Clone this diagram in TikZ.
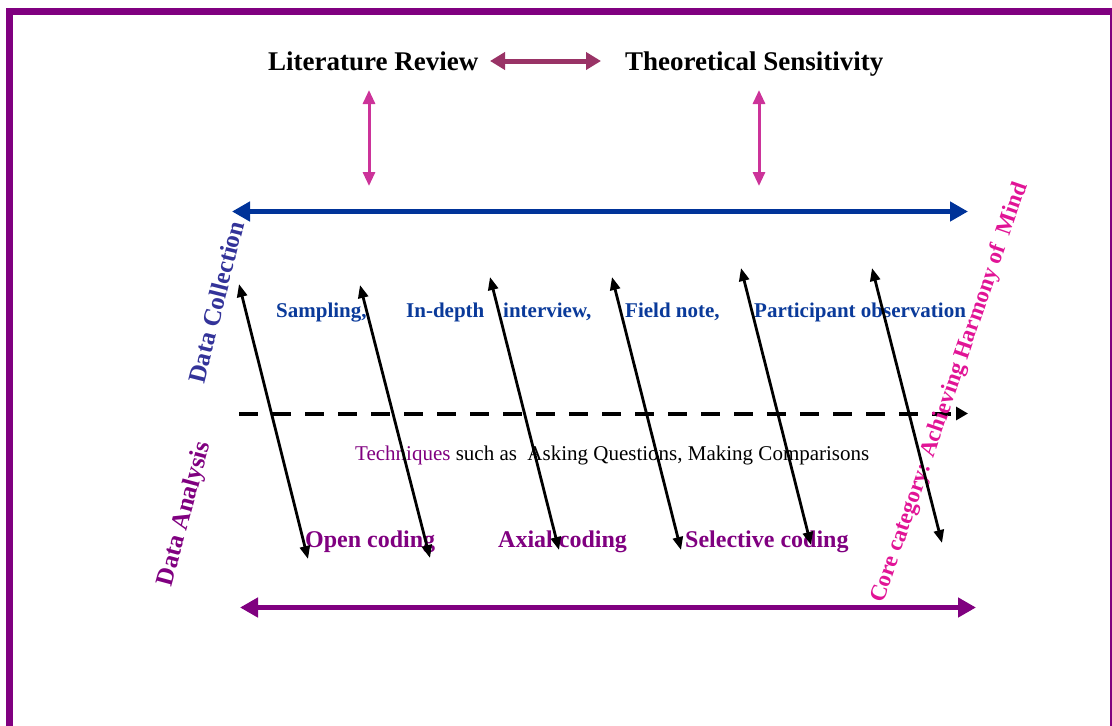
\documentclass[tikz,border=0pt]{standalone}
\usepackage{fontspec}
\setmainfont{Liberation Serif}
\usetikzlibrary{arrows.meta}
\definecolor{framepurple}{HTML}{800080}
\definecolor{maroonarrow}{HTML}{993366}
\definecolor{pinkarrow}{HTML}{CC3399}
\definecolor{bluearrow}{HTML}{003399}
\definecolor{bluetext}{HTML}{0A3A9A}
\definecolor{dcblue}{HTML}{333399}
\definecolor{coremag}{RGB}{225,20,150}
\begin{document}
\begin{tikzpicture}[x=1pt,y=-1pt,
  lbl/.style={inner sep=0pt, anchor=base west},
  toptext/.style={lbl, font=\fontsize{27}{30}\selectfont\bfseries},
  bluelbl/.style={lbl, text=bluetext, font=\fontsize{21}{24}\selectfont\bfseries},
  codelbl/.style={lbl, text=framepurple, font=\fontsize{24}{27}\selectfont\bfseries},
  rotlbl/.style={inner sep=0pt, anchor=center, font=\fontsize{25}{28}\selectfont\bfseries},
  blk/.style={black, line width=2.8pt, {Triangle[length=13pt,width=10pt]}-{Triangle[length=13pt,width=10pt]}},
  pinkarr/.style={pinkarrow, line width=3pt, {Triangle[length=14pt,width=12pt]}-{Triangle[length=14pt,width=12pt]}},
  bigarr/.style={line width=5.5pt, {Triangle[length=18pt,width=19pt]}-{Triangle[length=18pt,width=19pt]}}
]
\useasboundingbox (0,0) rectangle (1112,726);
\clip (0,0) rectangle (1112,726);
\draw[framepurple, line width=6.5pt] (9.3,11.3) rectangle (1113.5,800);

% top texts
\node[toptext] (lit) at (268,70) {Literature Review};
\node[toptext] (theo) at (625,70) {Theoretical Sensitivity};
\coordinate (litR) at (490,61);
\coordinate (theoL) at (601,61);
\draw[maroonarrow, line width=5pt, {Triangle[length=15pt,width=17pt]}-{Triangle[length=15pt,width=17pt]}] (litR) -- (theoL);

% pink vertical arrows
\coordinate (p1t) at (369,90);
\coordinate (p1b) at (369,186);
\coordinate (p2t) at (759,90);
\coordinate (p2b) at (759,186);
\draw[pinkarr] (p1t) -- (p1b);
\draw[pinkarr] (p2t) -- (p2b);

% blue arrow
\coordinate (bL) at (232,211.5);
\coordinate (bR) at (968,211.5);
\draw[bigarr, bluearrow] (bL) -- (bR);

% dashed arrow
\coordinate (dL) at (239,413.5);
\coordinate (dR) at (968,413.5);
\draw[black, line width=4pt, dash pattern=on 18.5pt off 14.5pt, -{Triangle[length=12pt,width=13pt]}] (dL) -- (dR);

% purple arrow
\coordinate (uL) at (240,607.5);
\coordinate (uR) at (976,607.5);
\draw[bigarr, framepurple] (uL) -- (uR);

% blue labels
\node[bluelbl] (samp) at (276,317) {Sampling,};
\node[bluelbl] (indepth) at (406,317) {In-depth};
\node[bluelbl] (interv) at (503,317) {interview,};
\node[bluelbl] (field) at (625,317) {Field note,};
\node[bluelbl] (part) at (754,317) {Participant observation};

% techniques
\node[lbl, font=\fontsize{21}{24}\selectfont] (tech) at (355,460) {\textcolor{framepurple}{Techniques} such as\ \ Asking Questions, Making Comparisons};

% coding labels
\node[codelbl] (open) at (305,547) {Open coding};
\node[codelbl] (axial) at (498,547) {Axial coding};
\node[codelbl] (sel) at (685,547) {Selective coding};

% rotated labels
\node[rotlbl, text=dcblue, rotate=76] (dc) at (216,302) {Data Collection};
\node[rotlbl, text=framepurple, rotate=75] (da) at (185,514) {Data Analysis};
\node[rotlbl, text=coremag, rotate=71, font=\fontsize{23}{26}\selectfont\bfseries] (core) at (950,393) {Core category: Achieving Harmony of\ \ Mind};

% black diagonal arrows
\coordinate (a1t) at (239,284); \coordinate (a1b) at (308,559);
\coordinate (a2t) at (360,285); \coordinate (a2b) at (430,558);
\coordinate (a3t) at (490,277); \coordinate (a3b) at (559,550);
\coordinate (a4t) at (612,277); \coordinate (a4b) at (681,550);
\coordinate (a5t) at (741,268); \coordinate (a5b) at (811,545);
\coordinate (a6t) at (872,268); \coordinate (a6b) at (942,543);
\draw[blk] (a1t) -- (a1b);
\draw[blk] (a2t) -- (a2b);
\draw[blk] (a3t) -- (a3b);
\draw[blk] (a4t) -- (a4b);
\draw[blk] (a5t) -- (a5b);
\draw[blk] (a6t) -- (a6b);
\end{tikzpicture}
\end{document}
